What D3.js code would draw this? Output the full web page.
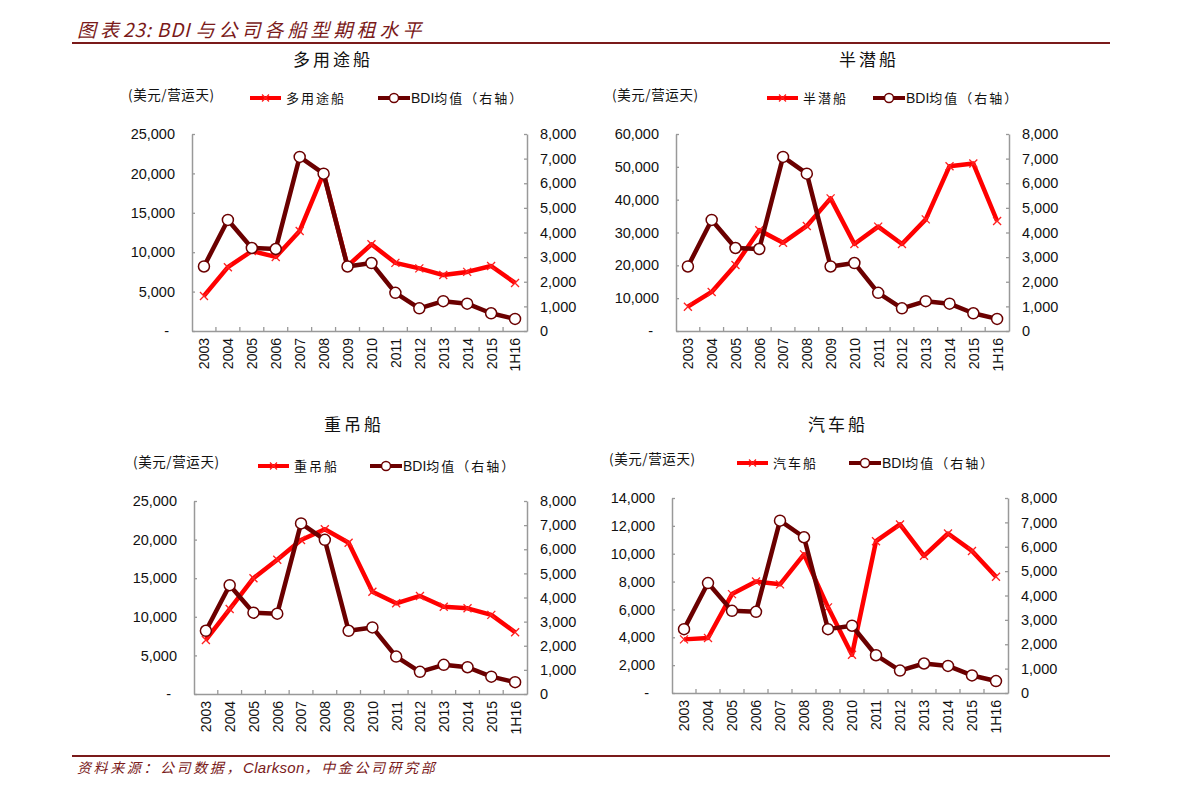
<!DOCTYPE html>
<html><head><meta charset="utf-8">
<script src="https://cdn.jsdelivr.net/npm/d3@7"></script>
<style>body{margin:0;background:#fff}</style>
</head><body><svg id="c" width="1191" height="797"></svg>
<script>
// ---------- data ----------
const categories = ["2003","2004","2005","2006","2007","2008","2009","2010","2011","2012","2013","2014","2015","1H16"];
const bdiAvg = [2620,4510,3370,3330,7070,6390,2620,2760,1550,920,1210,1110,720,490];
const multiPurpose = [4450,8100,10150,9400,12700,20000,8250,11000,8650,7950,7100,7500,8250,6100];
const semiSub = [7400,11900,20100,30700,26900,32000,40400,26500,31800,26500,34000,50200,51000,33500];
const heavyLift = [7000,11000,15000,17400,19950,21350,19600,13250,11750,12700,11300,11100,10250,8000];
const carCarrier = [3850,3950,7100,8000,7800,9950,6150,2750,10900,12100,9850,11450,10200,8350];
const seriesNames = ["多用途船","半潜船","重吊船","汽车船"];
const leftTicksA = [0,5000,10000,15000,20000,25000];
const leftTicksB = [0,10000,20000,30000,40000,50000,60000];
const leftTicksC = [0,5000,10000,15000,20000,25000];
const leftTicksD = [0,2000,4000,6000,8000,10000,12000,14000];
const rightTicks = [0,1000,2000,3000,4000,5000,6000,7000,8000];
const bdiLabelParts = ["BDI", "均值（右轴）"];
const unitLabel = "(美元/营运天)";
const titleParts = ["图表", "23: BDI ", "与公司各船型期租水平"];
const sourceParts = ["资料来源：公司数据，", "Clarkson", "，中金公司研究部"];

// ---------- layout ----------
const RED = "#ff0000", DARK = "#6b0000", AXIS = "#999999", HEAD = "#7a1a1a";
const CJK = "'Noto Sans CJK SC', sans-serif";
const NUM = "'Liberation Sans', Arial, sans-serif";
const panels = [
  {values: multiPurpose, name: seriesNames[0], ticks: leftTicksA, x0:192, x1:527, y0:134, y1:331,
   titleX:333, titleY:60, unitX:128, unitY:95, legY:98, leg1:250, leg2:378},
  {values: semiSub, name: seriesNames[1], ticks: leftTicksB, x0:676, x1:1009, y0:134, y1:331,
   titleX:869, titleY:60, unitX:612, unitY:95, legY:98, leg1:767, leg2:873},
  {values: heavyLift, name: seriesNames[2], ticks: leftTicksC, x0:194, x1:527, y0:501, y1:694,
   titleX:354, titleY:425, unitX:133, unitY:462, legY:466, leg1:258, leg2:370},
  {values: carCarrier, name: seriesNames[3], ticks: leftTicksD, x0:672, x1:1008, y0:498, y1:693,
   titleX:838, titleY:425, unitX:609, unitY:459, legY:463, leg1:737, leg2:849}
];

const svg = d3.select("#c");

// header
const ht = svg.append("text").attr("x",77).attr("y",37).attr("fill",HEAD)
  .attr("font-family",CJK).attr("font-size",19).attr("font-style","italic");
ht.selectAll("tspan").data(titleParts).join("tspan")
  .attr("letter-spacing",(d,i)=> i===1 ? 0.8 : 4).text(d=>d);
svg.append("line").attr("x1",72).attr("x2",1110).attr("y1",43).attr("y2",43)
  .attr("stroke",HEAD).attr("stroke-width",2);
// footer
svg.append("line").attr("x1",72).attr("x2",1110).attr("y1",756).attr("y2",756)
  .attr("stroke",HEAD).attr("stroke-width",2);
const ft = svg.append("text").attr("x",77).attr("y",773).attr("fill",HEAD)
  .attr("font-family",CJK).attr("font-size",14).attr("font-style","italic");
ft.selectAll("tspan").data(sourceParts).join("tspan")
  .attr("letter-spacing",(d,i)=> i===1 ? 0.3 : 2.6)
  .attr("font-family",(d,i)=> i===1 ? NUM : CJK)
  .attr("font-size",(d,i)=> i===1 ? 15 : 14).text(d=>d);

function xMarker(g, cx, cy, s){
  g.append("path").attr("d",`M${cx-s},${cy-s}L${cx+s},${cy+s}M${cx-s},${cy+s}L${cx+s},${cy-s}`)
   .attr("stroke","#ff2020").attr("stroke-width",1.3).attr("fill","none");
}

panels.forEach(p => {
  const g = svg.append("g");
  const xp = d3.scalePoint(categories,[p.x0,p.x1]).padding(0.5);
  const xb = d3.scaleBand(categories,[p.x0,p.x1]);
  const yl = d3.scaleLinear([0, p.ticks[p.ticks.length-1]],[p.y1,p.y0]);
  const yr = d3.scaleLinear([0, rightTicks[rightTicks.length-1]],[p.y1,p.y0]);

  // title
  g.append("text").attr("x",p.titleX).attr("y",p.titleY+6).attr("text-anchor","middle")
   .attr("font-family",CJK).attr("font-size",17).attr("letter-spacing",3).attr("fill","#111")
   .text(p.name);
  // unit
  g.append("text").attr("x",p.unitX).attr("y",p.unitY+5)
   .attr("font-family",CJK).attr("font-size",13.5).attr("letter-spacing",0.6).attr("fill","#111")
   .text(unitLabel);
  // legend
  g.append("line").attr("x1",p.leg1).attr("x2",p.leg1+31).attr("y1",p.legY).attr("y2",p.legY)
   .attr("stroke",RED).attr("stroke-width",4);
  xMarker(g, p.leg1+15.5, p.legY, 3.5);
  g.append("text").attr("x",p.leg1+36).attr("y",p.legY+5)
   .attr("font-family",CJK).attr("font-size",13).attr("letter-spacing",2).attr("fill","#111").text(p.name);
  g.append("line").attr("x1",p.leg2).attr("x2",p.leg2+32).attr("y1",p.legY).attr("y2",p.legY)
   .attr("stroke",DARK).attr("stroke-width",4);
  g.append("circle").attr("cx",p.leg2+16).attr("cy",p.legY).attr("r",4.5)
   .attr("fill","#fff").attr("stroke",DARK).attr("stroke-width",1.5);
  const lt = g.append("text").attr("x",p.leg2+33).attr("y",p.legY+5)
   .attr("font-size",13).attr("fill","#111");
  lt.selectAll("tspan").data(bdiLabelParts).join("tspan")
   .attr("font-family",(d,i)=> i===0 ? NUM : CJK)
   .attr("font-size",(d,i)=> i===0 ? 14 : 13)
   .attr("letter-spacing",(d,i)=> i===0 ? 0 : 2).text(d=>d);

  // left axis
  const la = g.append("g").attr("transform",`translate(${p.x0},0)`)
    .call(d3.axisLeft(yl).tickValues(p.ticks).tickSizeInner(-3).tickSizeOuter(0).tickPadding(17)
      .tickFormat(d => d===0 ? "-" : d3.format(",")(d)));
  la.selectAll("text").attr("font-family",NUM).attr("font-size",14.5).attr("fill","#111")
    .attr("dx", d => d===0 ? -6 : 0);
  // right axis
  const ra = g.append("g").attr("transform",`translate(${p.x1},0)`)
    .call(d3.axisRight(yr).tickValues(rightTicks).tickSizeInner(-3).tickSizeOuter(0).tickPadding(13)
      .tickFormat(d3.format(",")));
  ra.selectAll("text").attr("font-family",NUM).attr("font-size",14.5).attr("fill","#111");
  // bottom axis
  const ba = g.append("g").attr("transform",`translate(0,${p.y1})`)
    .call(d3.axisBottom(xp).tickSize(0).tickPadding(0));
  ba.selectAll("text").attr("font-family",NUM).attr("font-size",14).attr("fill","#111")
    .attr("transform","rotate(-90)").attr("text-anchor","end")
    .attr("x",-7).attr("y",0).attr("dy","0.35em");
  ba.selectAll(".bt").data(categories.slice(1)).join("line").attr("class","bt")
    .attr("x1",d=>xb(d)).attr("x2",d=>xb(d)).attr("y1",0).attr("y2",-4)
    .attr("stroke",AXIS).attr("stroke-width",1.3);
  [la,ra,ba].forEach(a=>{
    a.selectAll(".domain").attr("stroke",AXIS).attr("stroke-width",1.5);
    a.selectAll(".tick line").attr("stroke",AXIS).attr("stroke-width",1.3);
  });

  // lines
  const lineL = d3.line().x((d,i)=>xp(categories[i])).y(d=>yl(d));
  const lineR = d3.line().x((d,i)=>xp(categories[i])).y(d=>yr(d));
  g.append("path").datum(p.values).attr("d",lineL).attr("fill","none")
    .attr("stroke",RED).attr("stroke-width",4.5).attr("stroke-linejoin","round");
  p.values.forEach((v,i)=> xMarker(g, xp(categories[i]), yl(v), 4));
  g.append("path").datum(bdiAvg).attr("d",lineR).attr("fill","none")
    .attr("stroke",DARK).attr("stroke-width",4.5).attr("stroke-linejoin","round");
  g.selectAll(".pt").data(bdiAvg).join("circle").attr("class","pt")
    .attr("cx",(d,i)=>xp(categories[i])).attr("cy",d=>yr(d)).attr("r",5.5)
    .attr("fill","#fff").attr("stroke",DARK).attr("stroke-width",1.5);
});
</script></body></html>
